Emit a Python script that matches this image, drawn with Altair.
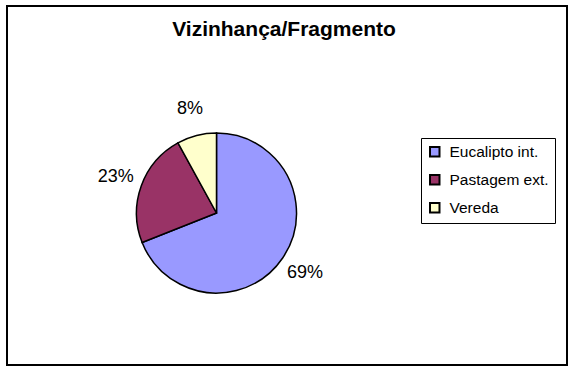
import altair as alt
import pandas as pd

categorias = ["Eucalipto int.", "Pastagem ext.", "Vereda"]
valores = [69, 23, 8]
rotulos = ["69%", "23%", "8%"]
ordem = [1, 2, 3]
cores = ["#9999FF", "#993366", "#FFFFCC"]

df = pd.DataFrame({
    "categoria": categorias,
    "valor": valores,
    "rotulo": rotulos,
    "ordem": ordem,
})

FONT = "Liberation Sans"
CX, CY = 209.5, 207

base = alt.Chart(df).encode(
    theta=alt.Theta("valor:Q", stack=True),
    order=alt.Order("ordem:Q"),
)

pie = base.mark_arc(radius=80, stroke="black", strokeWidth=1.5).encode(
    x=alt.value(CX),
    y=alt.value(CY),
    color=alt.Color(
        "categoria:N",
        scale=alt.Scale(domain=categorias, range=cores),
        legend=alt.Legend(
            title=None,
            orient="none",
            legendX=414,
            legendY=132,
            symbolType="square",
            symbolSize=90,
            symbolStrokeColor="black",
            symbolStrokeWidth=2,
            labelFont=FONT,
            labelFontSize=15.5,
            labelColor="black",
            labelOffset=7,
            rowPadding=10,
            padding=6,
            strokeColor="black",
            fillColor="white",
        ),
    ),
)

labels = base.mark_text(radius=107, font=FONT, fontSize=18, color="black").encode(
    x=alt.value(CX),
    y=alt.value(CY),
    text="rotulo:N",
)

chart = alt.layer(pie, labels).properties(
    width=560,
    height=359,
    padding={"left": 7, "top": 6, "right": 9, "bottom": 8},
    autosize=alt.AutoSizeParams(type="none"),
    background="white",
    title=alt.TitleParams(
        "Vizinhança/Fragmento",
        font=FONT,
        fontSize=21,
        fontWeight="bold",
        color="black",
        anchor="middle",
        baseline="alphabetic",
        offset=-51,
        dx=-3,
    ),
).configure_view(stroke="black", strokeWidth=2)

chart.save("out.html", embed_options={"renderer": "svg", "actions": False})
